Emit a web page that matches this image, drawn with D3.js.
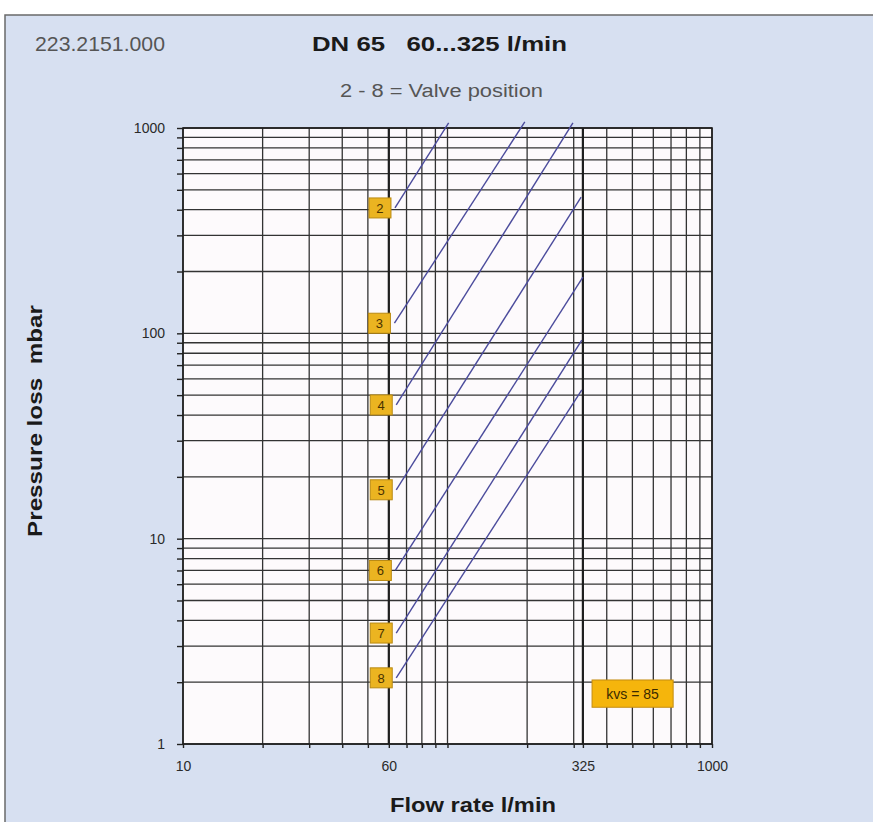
<!DOCTYPE html>
<html>
<head>
<meta charset="utf-8">
<script src="https://cdn.jsdelivr.net/npm/d3@7"></script>
<style>
  body { margin: 0; background: #fff; }
  svg { display: block; }
</style>
</head>
<body>
<div id="chart"></div>
<script>
// chart values
var flowTicks = [10, 60, 325, 1000];
var pressureTicks = [1, 10, 100, 1000];
var positions = ["2", "3", "4", "5", "6", "7", "8"];
var flowStart = [63.3, 63, 64, 64, 63.5, 64, 64];
var flowEnd = [101, 196, 298, 320, 325, 322, 322];
var pressureStart = [408, 112, 44.8, 17.3, 7.0, 3.47, 2.1];
var pressureEnd = [1058, 1070, 1058, 461, 188, 92.7, 53];
var kvsText = "kvs = 85";

var W = 873, H = 822;
var margin = {top: 128, left: 183, right: 161, bottom: 78};

var svg = d3.select("#chart").append("svg")
    .attr("width", W)
    .attr("height", H);

// panel background
svg.append("rect")
    .attr("x", 5).attr("y", 15)
    .attr("width", W + 10).attr("height", H)
    .attr("fill", "#d7e0f1")
    .attr("stroke", "#6a6a6a")
    .attr("stroke-width", 1.5);

// scales
var x = d3.scaleLog()
    .domain([10, 1000])
    .range([margin.left, W - margin.right]);
var y = d3.scaleLog()
    .domain([1, 1000])
    .range([H - margin.bottom, margin.top]);

// plot area
svg.append("rect")
    .attr("x", x(10)).attr("y", y(1000))
    .attr("width", x(1000) - x(10))
    .attr("height", y(1) - y(1000))
    .attr("fill", "#fdfafc");

var gridX = x.ticks();
var gridY = y.ticks();

// grid
var grid = svg.append("g");
grid.selectAll(".vx")
    .data(gridX)
    .enter().append("line")
    .attr("x1", function (d) { return x(d); })
    .attr("x2", function (d) { return x(d); })
    .attr("y1", y(1)).attr("y2", y(1000))
    .attr("stroke", "#333")
    .attr("stroke-width", 1.3);
grid.selectAll(".hy")
    .data(gridY)
    .enter().append("line")
    .attr("y1", function (d) { return y(d); })
    .attr("y2", function (d) { return y(d); })
    .attr("x1", x(10)).attr("x2", x(1000))
    .attr("stroke", "#333")
    .attr("stroke-width", 1.3);

// the two flow limits drawn heavier
grid.selectAll(".lim")
    .data([60, 325])
    .enter().append("line")
    .attr("x1", function (d) { return x(d); })
    .attr("x2", function (d) { return x(d); })
    .attr("y1", y(1)).attr("y2", y(1000))
    .attr("stroke", "#1e1e1e")
    .attr("stroke-width", 2.2);

// frame
svg.append("rect")
    .attr("x", x(10)).attr("y", y(1000))
    .attr("width", x(1000) - x(10))
    .attr("height", y(1) - y(1000))
    .attr("fill", "none")
    .attr("stroke", "#1e1e1e")
    .attr("stroke-width", 1.6);

// axes
var yAxis = d3.axisLeft(y)
    .tickValues(gridY)
    .tickSize(6)
    .tickPadding(12)
    .tickFormat(function (d) { return pressureTicks.indexOf(d) >= 0 ? d : ""; });
var gy = svg.append("g")
    .attr("transform", "translate(" + x(10) + ",0)")
    .call(yAxis);

var xAxis = d3.axisBottom(x)
    .tickValues(gridX.concat([325]))
    .tickSize(4)
    .tickPadding(13)
    .tickFormat(function (d) { return flowTicks.indexOf(d) >= 0 ? d : ""; });
var gx = svg.append("g")
    .attr("transform", "translate(0," + y(1) + ")")
    .call(xAxis);

[gx, gy].forEach(function (g) {
    g.select(".domain").remove();
    g.selectAll(".tick line").attr("stroke", "#222").attr("stroke-width", 1.4);
    g.selectAll(".tick text")
        .attr("fill", "#2a2a2a")
        .style("font-family", "'Liberation Sans', Arial, sans-serif")
        .style("font-size", "14px");
});

// characteristic lines
var lines = svg.append("g");
positions.forEach(function (p, i) {
    lines.append("line")
        .attr("x1", x(flowStart[i])).attr("y1", y(pressureStart[i]))
        .attr("x2", x(flowEnd[i])).attr("y2", y(pressureEnd[i]))
        .attr("stroke", "#4b4b9c")
        .attr("stroke-width", 1.4);

    var bx = x(flowStart[i]) - 15, by = y(pressureStart[i]);
    lines.append("rect")
        .attr("x", bx - 11).attr("y", by - 10)
        .attr("width", 22).attr("height", 20)
        .attr("fill", "#ebb421")
        .attr("stroke", "#b98a12")
        .attr("stroke-width", 1);
    lines.append("text")
        .attr("x", bx).attr("y", by + 5)
        .attr("text-anchor", "middle")
        .attr("fill", "#4a3200")
        .style("font-family", "'Liberation Sans', Arial, sans-serif")
        .style("font-size", "13px")
        .text(p);
});

// kvs box
svg.append("rect")
    .attr("x", x(352)).attr("y", y(2.05))
    .attr("width", x(713) - x(352))
    .attr("height", y(1.51) - y(2.05))
    .attr("fill", "#f5b50c")
    .attr("stroke", "#c48c10")
    .attr("stroke-width", 1);
svg.append("text")
    .attr("x", (x(352) + x(713)) / 2)
    .attr("y", (y(2.05) + y(1.51)) / 2 + 5)
    .attr("text-anchor", "middle")
    .attr("fill", "#3a2a00")
    .style("font-family", "'Liberation Sans Narrow', 'Liberation Sans', Arial, sans-serif")
    .style("font-size", "14px")
    .text(kvsText);

// titles
var font = "'Liberation Sans', Arial, sans-serif";
svg.append("text")
    .attr("x", 35).attr("y", 51)
    .attr("fill", "#555")
    .attr("textLength", 130)
    .attr("lengthAdjust", "spacingAndGlyphs")
    .style("font-family", font)
    .style("font-size", "21px")
    .text("223.2151.000");
svg.append("text")
    .attr("x", 312).attr("y", 51)
    .attr("fill", "#1a1a1a")
    .attr("textLength", 255)
    .attr("lengthAdjust", "spacingAndGlyphs")
    .style("font-family", font)
    .style("font-size", "21px")
    .style("font-weight", "bold")
    .style("white-space", "pre")
    .text("DN 65   60...325 l/min");
svg.append("text")
    .attr("x", 340).attr("y", 97)
    .attr("fill", "#555")
    .attr("textLength", 203)
    .attr("lengthAdjust", "spacingAndGlyphs")
    .style("font-family", font)
    .style("font-size", "18px")
    .text("2 - 8 = Valve position");

svg.append("text")
    .attr("transform", "translate(42,537) rotate(-90)")
    .attr("fill", "#1a1a1a")
    .attr("textLength", 232)
    .attr("lengthAdjust", "spacingAndGlyphs")
    .style("font-family", font)
    .style("font-size", "20px")
    .style("font-weight", "bold")
    .style("white-space", "pre")
    .text("Pressure loss  mbar");
svg.append("text")
    .attr("x", 390).attr("y", 812)
    .attr("fill", "#1a1a1a")
    .attr("textLength", 166)
    .attr("lengthAdjust", "spacingAndGlyphs")
    .style("font-family", font)
    .style("font-size", "21px")
    .style("font-weight", "bold")
    .text("Flow rate l/min");
</script>
</body>
</html>
